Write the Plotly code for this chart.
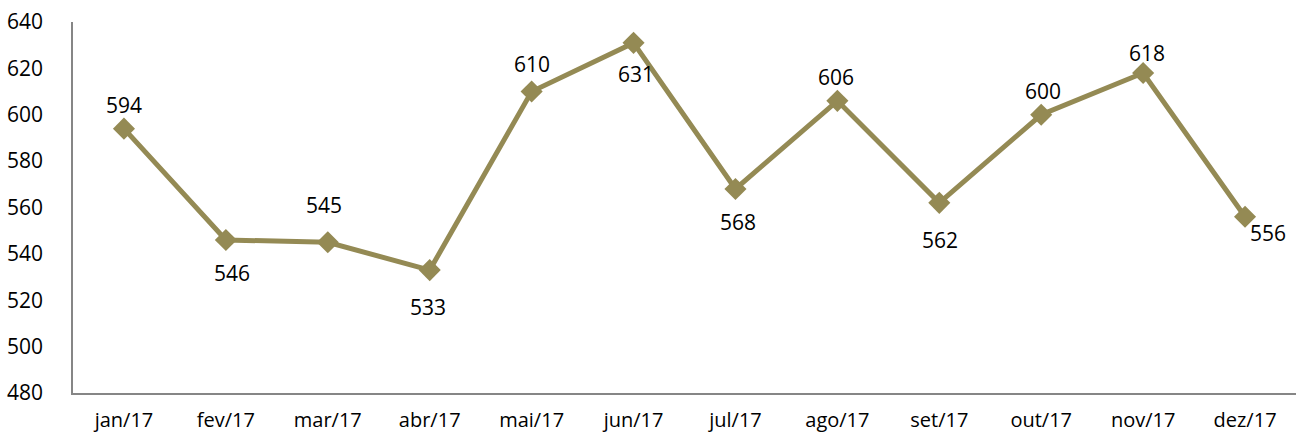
import plotly.graph_objects as go

months = ["jan/17", "fev/17", "mar/17", "abr/17", "mai/17", "jun/17",
          "jul/17", "ago/17", "set/17", "out/17", "nov/17", "dez/17"]
values = [594, 546, 545, 533, 610, 631, 568, 606, 562, 600, 618, 556]
y_ticks = [480, 500, 520, 540, 560, 580, 600, 620, 640]

# label offsets (pixels) relative to each point
label_dx = [0, 6, -4, -2, 0, 2, 3, -1, 1, 2, 4, 23]
label_dy = [24, -33, 37, -37, 28, -31, -33, 24, -37, 24, 20, -16]

FONT = "Open Sans"
COLOR = "#948A54"

fig = go.Figure()
fig.add_trace(go.Scatter(
    x=list(range(len(months))), y=values,
    mode="lines+markers",
    line=dict(color=COLOR, width=5),
    marker=dict(symbol="diamond", size=17, color=COLOR),
    hoverinfo="skip",
))

for i, v in enumerate(values):
    fig.add_annotation(
        x=i, y=v, text=str(v), showarrow=False,
        xshift=label_dx[i], yshift=label_dy[i],
        font=dict(family=FONT, size=21, color="#000000"),
    )

fig.update_layout(
    width=1300, height=436,
    margin=dict(l=73, r=4, t=22, b=43),
    paper_bgcolor="white", plot_bgcolor="white",
    showlegend=False,
    font=dict(family=FONT, size=21, color="#000000"),
)
fig.update_xaxes(
    range=[-0.5, len(months) - 0.5],
    tickmode="array", tickvals=list(range(len(months))), ticktext=months,
    showgrid=False, zeroline=False, automargin=False,
    showline=True, linecolor="#868686", linewidth=1.5,
    ticks="", ticklabelstandoff=8,
    tickfont=dict(family=FONT, size=20),
)
fig.update_yaxes(
    range=[480, 640], tickvals=y_ticks,
    showgrid=False, zeroline=False, automargin=False,
    showline=True, linecolor="#868686", linewidth=1.5,
    ticks="", ticklabelstandoff=24,
    tickfont=dict(family=FONT, size=21),
)

fig.write_html(
    "out.html",
    config={"displayModeBar": False},
    post_script="document.body.style.margin='0';document.body.style.overflow='hidden';",
)
